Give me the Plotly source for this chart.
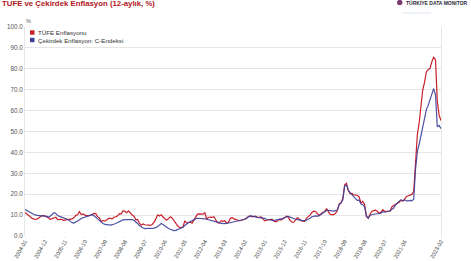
import plotly.graph_objects as go
import pandas as pd

# ---- data (12-month % change), monthly from 2004-01 to 2023-02 ----
tufe = [
    11.2, 10.4, 9.6, 8.9, 8.4, 8.1, 7.9, 8.3, 9.0, 9.6, 9.9, 9.6,          # 2004
    9.24, 8.69, 7.94, 8.18, 8.70, 8.95, 7.82, 7.91, 7.99, 7.52, 7.61, 7.72,  # 2005
    7.93, 8.15, 8.16, 8.83, 9.86, 10.12, 11.69, 10.26, 10.55, 9.98, 9.86, 9.65,  # 2006
    9.93, 10.16, 10.86, 10.72, 9.23, 8.60, 6.90, 7.39, 7.12, 7.70, 8.40, 8.39,  # 2007
    8.17, 9.10, 9.15, 9.66, 10.74, 10.61, 12.06, 11.77, 11.13, 11.99, 10.76, 10.06,  # 2008
    9.50, 7.73, 7.89, 6.13, 5.24, 5.73, 5.39, 5.33, 5.27, 5.08, 5.53, 6.53,  # 2009
    8.19, 10.13, 9.56, 10.19, 9.10, 8.37, 7.58, 8.33, 9.24, 8.62, 7.29, 6.40,  # 2010
    4.90, 4.16, 3.99, 4.26, 7.17, 6.24, 6.31, 6.65, 6.15, 7.66, 9.48, 10.45,  # 2011
    10.61, 10.43, 10.43, 11.14, 8.28, 8.87, 9.07, 8.88, 9.19, 7.80, 6.37, 6.16,  # 2012
    7.31, 7.03, 7.29, 6.13, 6.51, 8.30, 8.88, 8.17, 7.88, 7.71, 7.32, 7.40,  # 2013
    7.75, 7.89, 8.39, 9.38, 9.66, 9.16, 9.32, 9.54, 8.86, 8.96, 9.15, 8.17,  # 2014
    7.24, 7.55, 7.61, 7.91, 8.09, 7.20, 6.81, 7.14, 7.95, 7.58, 8.10, 8.81,  # 2015
    9.58, 8.78, 7.46, 6.57, 6.58, 7.64, 8.79, 8.05, 7.28, 7.16, 7.00, 8.53,  # 2016
    9.22, 10.13, 11.29, 11.87, 11.72, 10.90, 9.79, 10.68, 11.20, 11.90, 12.98, 11.92,  # 2017
    10.35, 10.26, 10.23, 10.85, 12.15, 15.39, 15.85, 17.90, 24.52, 25.24, 21.62, 20.30,  # 2018
    20.35, 19.67, 19.71, 19.50, 18.71, 15.72, 16.65, 15.01, 9.26, 8.55, 10.56, 11.84,  # 2019
    12.15, 12.37, 11.86, 10.94, 11.39, 12.62, 11.76, 11.77, 11.75, 11.89, 14.03, 14.60,  # 2020
    14.97, 15.61, 16.19, 17.14, 16.59, 17.53, 18.95, 19.25, 19.58, 19.89, 21.31, 36.08,  # 2021
    48.69, 54.44, 61.14, 69.97, 73.50, 78.62, 79.60, 80.21, 83.45, 85.51, 84.39, 64.27,  # 2022
    57.68, 55.18,  # 2023
]

cekirdek_c = [
    12.7, 12.2, 11.6, 11.0, 10.6, 10.3, 10.0, 9.8, 9.6, 9.6, 9.5, 9.6,      # 2004
    9.2, 9.0, 9.6, 10.5, 11.2, 10.8, 9.8, 9.4, 9.0, 8.6, 8.4, 8.2,          # 2005
    7.8, 7.0, 6.4, 6.2, 6.6, 7.2, 7.8, 8.4, 8.8, 9.2, 9.4, 9.6,             # 2006
    10.0, 10.3, 9.8, 9.0, 8.2, 7.4, 6.6, 6.0, 5.6, 5.4, 5.2, 5.2,           # 2007
    5.4, 5.6, 6.0, 6.5, 7.0, 7.4, 7.7, 7.8, 7.9, 8.0, 8.0, 7.9,             # 2008
    7.5, 6.8, 6.0, 5.0, 4.3, 3.8, 3.5, 3.6, 3.8, 3.7, 3.6, 3.7,             # 2009
    4.0, 4.5, 5.3, 6.0, 5.5, 4.8, 4.3, 3.6, 3.2, 2.8, 2.6, 2.7,             # 2010
    3.0, 3.5, 3.8, 4.2, 5.0, 5.8, 6.3, 6.8, 7.4, 7.9, 8.3, 8.5,             # 2011
    8.5, 8.4, 8.3, 8.2, 8.0, 7.8, 7.6, 7.4, 7.2, 7.0, 6.8, 6.4,             # 2012
    6.0, 5.8, 5.9, 6.0, 6.2, 6.3, 6.4, 6.6, 6.8, 7.0, 7.2, 7.4,             # 2013
    7.8, 8.0, 8.6, 9.3, 9.6, 9.5, 9.2, 9.0, 8.9, 8.8, 8.7, 8.7,             # 2014
    8.4, 8.0, 7.8, 7.8, 7.6, 7.4, 7.6, 7.7, 8.0, 8.2, 8.4, 8.9,             # 2015
    9.2, 9.4, 9.0, 8.6, 8.4, 8.0, 7.8, 7.6, 7.5, 7.4, 7.4, 7.6,             # 2016
    8.0, 8.6, 9.2, 9.4, 9.6, 9.4, 9.7, 10.3, 11.0, 11.8, 12.2, 12.3,        # 2017
    12.1, 12.0, 11.9, 12.1, 12.6, 15.0, 15.7, 17.3, 24.1, 24.3, 22.0, 20.8,  # 2018
    19.7, 18.6, 17.9, 17.1, 17.2, 15.3, 15.0, 13.9, 9.6, 8.5, 9.8, 10.3,    # 2019
    10.4, 10.5, 10.6, 10.6, 10.9, 11.6, 11.4, 11.6, 11.9, 12.1, 12.8, 13.4,  # 2020
    15.0, 15.6, 16.5, 17.3, 17.0, 17.3, 16.8, 16.8, 17.0, 16.8, 17.6, 31.9,  # 2021
    40.5, 44.0, 48.0, 52.5, 57.0, 60.5, 62.5, 65.5, 68.5, 70.5, 67.5, 52.2,  # 2022
    52.9, 51.3,  # 2023
]

tick_labels = ["2004-01", "2004-12", "2005-11", "2006-10", "2007-09", "2008-08",
               "2009-07", "2010-06", "2011-05", "2012-04", "2013-03", "2014-02",
               "2015-01", "2015-12", "2016-11", "2017-10", "2018-09", "2019-08",
               "2020-07", "2021-06", "2023-02"]

series_names = ["TÜFE Enflasyonu", "Çekirdek Enflasyon: C-Endeksi"]
series_colors = ["#c9202b", "#3b3f98"]

dates = pd.date_range("2004-01-01", periods=len(tufe), freq="MS")
tick_vals = [pd.Timestamp(t + "-01") for t in tick_labels]

W, H = 471, 261
L, R, T, B = 25, 30, 27, 25
PW, PH = W - L - R, H - T - B


def px(x):
    return (x - L) / PW


def py(y):
    return (H - B - y) / PH


FONT = "Liberation Sans, Arial, sans-serif"

fig = go.Figure()
fig.add_trace(go.Scatter(x=dates, y=tufe, mode="lines", name=series_names[0],
                         line=dict(color=series_colors[0], width=1.2), showlegend=False))
fig.add_trace(go.Scatter(x=dates, y=cekirdek_c, mode="lines", name=series_names[1],
                         line=dict(color=series_colors[1], width=1.2), opacity=0.9,
                         showlegend=False))

annotations = []
shapes = []
# legend (inside top-left)
for i, (nm, col) in enumerate(zip(series_names, series_colors)):
    cy = 32.5 + i * 7.5
    shapes.append(dict(type="rect", xref="paper", yref="paper",
                       x0=px(30), x1=px(34.5), y0=py(cy + 2.2), y1=py(cy - 2.2),
                       fillcolor=col, line=dict(width=0)))
    annotations.append(dict(text=nm, xref="paper", yref="paper", x=px(36), y=py(cy),
                            xanchor="left", yanchor="middle", showarrow=False,
                            font=dict(family=FONT, size=6.2, color="#333333")))

# title
annotations.append(dict(text="<b>TÜFE ve Çekirdek Enflasyon (12-aylık, %)</b>",
                        xref="paper", yref="paper", x=px(0.3), y=py(3.6),
                        xanchor="left", yanchor="middle", showarrow=False,
                        font=dict(family=FONT, size=7.8, color="#b3131b")))
# unit label
annotations.append(dict(text="%", xref="paper", yref="paper", x=px(28), y=py(20.5),
                        xanchor="center", yanchor="middle", showarrow=False,
                        font=dict(family=FONT, size=5.5, color="#555555")))
# logo
annotations.append(dict(text="<b>TÜRKİYE DATA MONITOR</b>", xref="paper", yref="paper",
                        x=px(403.5), y=py(2.8), xanchor="left", yanchor="middle",
                        showarrow=False,
                        font=dict(family=FONT, size=5.0, color="#2b2b3a")))
annotations.append(dict(text="turkiyedatamonitor", xref="paper", yref="paper",
                        x=px(400), y=py(12.5), xanchor="left", yanchor="middle",
                        showarrow=False,
                        font=dict(family=FONT, size=3.5, color="#d6e6f5")))
shapes.append(dict(type="circle", xref="paper", yref="paper",
                   x0=px(397), x1=px(402.5), y0=py(5.3), y1=py(-0.2),
                   fillcolor="#7a3b6e", line=dict(width=0)))

fig.update_layout(
    width=W, height=H,
    margin=dict(l=L, r=R, t=T, b=B),
    paper_bgcolor="white", plot_bgcolor="white",
    showlegend=False,
    font=dict(family=FONT, size=6.5, color="#444444"),
    annotations=annotations, shapes=shapes,
    xaxis=dict(type="date", range=[dates[0], dates[-1]],
               tickmode="array", tickvals=tick_vals, ticktext=tick_labels,
               tickangle=-60, tickfont=dict(size=5.6, color="#444444"),
               ticklabelstandoff=-2,
               showgrid=False, zeroline=False, showline=False,
               ticks="outside", ticklen=1, tickcolor="#dddddd",
               automargin=False),
    yaxis=dict(range=[0, 100], dtick=10, tickformat=".1f",
               tickfont=dict(size=6.3, color="#555555"),
               showgrid=True, gridcolor="#e6e6e6", gridwidth=1,
               zeroline=False, showline=True, linecolor="#e6e6e6", mirror=True,
               ticks="", automargin=False),
)

fig.write_html("out.html")
